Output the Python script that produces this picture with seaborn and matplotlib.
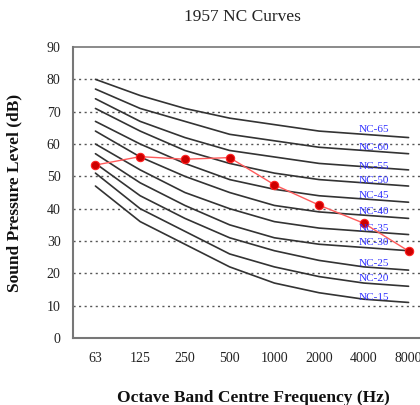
import matplotlib
matplotlib.use("Agg")
import matplotlib.pyplot as plt
import seaborn as sns
import pandas as pd
import numpy as np

freqs = ["63", "125", "250", "500", "1000", "2000", "4000", "8000"]
nc_names = ["NC-15", "NC-20", "NC-25", "NC-30", "NC-35", "NC-40",
            "NC-45", "NC-50", "NC-55", "NC-60", "NC-65"]
nc15 = [47, 36, 29, 22, 17, 14, 12, 11]
nc20 = [51, 40, 33, 26, 22, 19, 17, 16]
nc25 = [54, 44, 37, 31, 27, 24, 22, 21]
nc30 = [57, 48, 41, 35, 31, 29, 28, 27]
nc35 = [60, 52, 45, 40, 36, 34, 33, 32]
nc40 = [64, 56, 50, 45, 41, 39, 38, 37]
nc45 = [67, 60, 54, 49, 46, 44, 43, 42]
nc50 = [71, 64, 58, 54, 51, 49, 48, 47]
nc55 = [74, 67, 62, 58, 56, 54, 53, 52]
nc60 = [77, 71, 67, 63, 61, 59, 58, 57]
nc65 = [80, 75, 71, 68, 66, 64, 63, 62]
measured = [53.5, 56.1, 55.3, 55.8, 47.4, 41.1, 35.5, 26.9]
label_levels = [12.4, 18.3, 22.9, 29.4, 34.0, 39.0, 44.0, 48.6, 53.2, 58.8, 64.4]

curves = [nc15, nc20, nc25, nc30, nc35, nc40, nc45, nc50, nc55, nc60, nc65]
rows = []
for name, vals in zip(nc_names, curves):
    for i, v in enumerate(vals):
        rows.append({"curve": name, "x": i, "dB": v})
df = pd.DataFrame(rows)
dm = pd.DataFrame({"x": range(len(freqs)), "dB": measured})

sns.set_style("white")
serif = ["Liberation Serif", "DejaVu Serif"]
plt.rcParams["font.family"] = serif

fig = plt.figure(figsize=(4.2, 4.05), dpi=100)
ax = fig.add_axes([0.174, 0.1654, 0.852, 0.7185])

for yv in range(10, 90, 10):
    ax.axhline(yv, color="#555555", lw=1.0, ls=(0, (1.5, 2.5)), zorder=0)

sns.lineplot(data=df, x="x", y="dB", units="curve", estimator=None,
             color="#333333", lw=1.2, ax=ax, legend=False)
sns.lineplot(data=dm, x="x", y="dB", color="#ff5a5a", lw=1.0, ax=ax,
             marker="o", markersize=6, markerfacecolor="#cc0000",
             markeredgecolor="#ff2020", markeredgewidth=0.8, legend=False)

for name, lv in zip(nc_names, label_levels):
    ax.text(6.22, lv, name, color="#3030ff", fontsize=8, ha="center",
            va="center", family=serif)

ax.set_xlim(-0.5, 7.5)
ax.set_ylim(0, 90)
ax.set_yticks(range(0, 100, 10))
ax.set_xticks(range(len(freqs)))
ax.set_xticklabels(freqs)
ax.set_xticks(np.arange(0.5, 7, 1), minor=True)
ax.tick_params(axis="x", which="major", length=0, pad=10, labelsize=10,
               labelcolor="#222222")
ax.tick_params(axis="x", which="minor", length=4, direction="in",
               color="#666666", width=1)
ax.tick_params(axis="y", which="major", length=3, direction="in",
               color="#888888", labelsize=10, pad=9, labelcolor="#222222")
for s in ax.spines.values():
    s.set_color("#777777")
    s.set_linewidth(1.5)
ax.spines["top"].set_linewidth(1.2)

ax.set_xlabel("Octave Band Centre Frequency (Hz)", fontsize=12.5,
              fontweight="bold", color="#111111", va="center")
ax.set_ylabel("Sound Pressure Level (dB)", fontsize=12.5,
              fontweight="bold", color="#111111", va="center")
ax.xaxis.set_label_coords(0.505, -0.206)
ax.yaxis.set_label_coords(-0.165, 0.5)
fig.text(0.578, 0.958, "1957 NC Curves", ha="center", va="center",
         fontsize=12.5, color="#222222")

fig.savefig("out.png", dpi=100)
